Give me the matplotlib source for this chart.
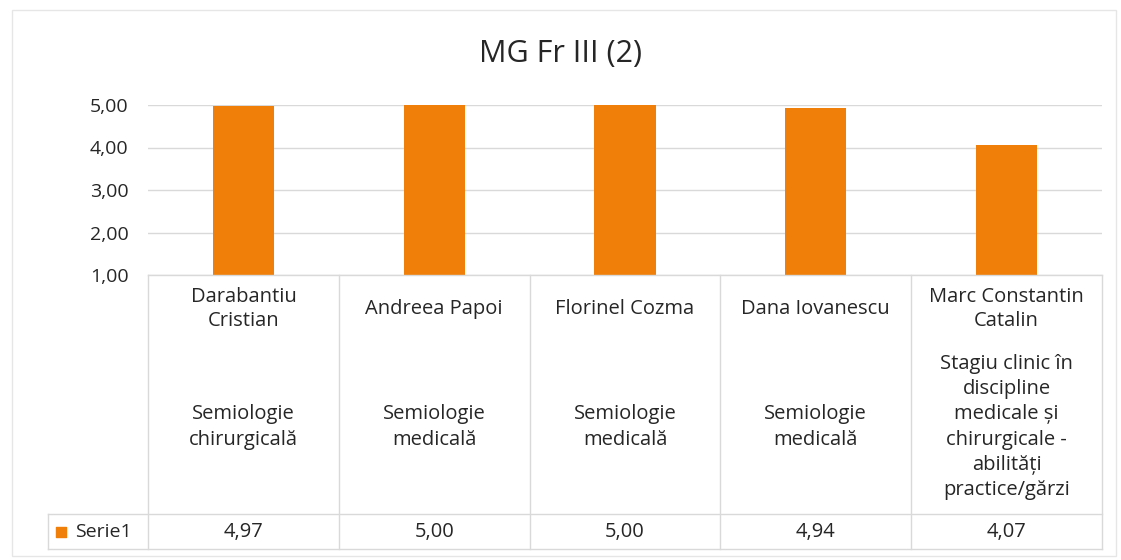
import matplotlib.pyplot as plt

# data
names = ["Darabantiu\nCristian", "Andreea Papoi", "Florinel Cozma", "Dana Iovanescu", "Marc Constantin\nCatalin"]
courses = ["Semiologie\nchirurgicală", "Semiologie\nmedicală", "Semiologie\nmedicală", "Semiologie\nmedicală",
           "Stagiu clinic în\ndiscipline\nmedicale și\nchirurgicale -\nabilități\npractice/gărzi"]
values = [4.97, 5.00, 5.00, 4.94, 4.07]
yticks = [1, 2, 3, 4, 5]
series_name = "Serie1"

orange = "#F07F09"
grid = "#D9D9D9"
txt = "#262626"
plt.rcParams['font.family'] = ['Open Sans', 'DejaVu Sans']

W, H = 1121, 560
fig = plt.figure(figsize=(W / 100, H / 100), dpi=100)

def fx(px):
    return px / W

def fy(py):
    return 1 - py / H

# light frame round the chart
fig.patches.append(plt.Rectangle((fx(12), fy(556)), fx(1104), 546 / H, transform=fig.transFigure,
                                 fill=False, edgecolor="#E6E6E6", lw=1))

left, right, top, axis_bot = 148, 1102, 105, 275
ax = fig.add_axes([fx(left), fy(axis_bot), fx(right - left), (axis_bot - top) / H])
x = list(range(len(values)))
ax.bar(x, values, width=0.32, color=orange, zorder=3)
ax.set_xlim(-0.5, len(values) - 0.5)
ax.set_ylim(1, 5)
ax.set_yticks(yticks)
ax.set_yticklabels([f"{v:.2f}".replace(".", ",") for v in yticks], fontsize=14, color=txt)
ax.tick_params(axis="y", length=0, pad=14)
ax.tick_params(axis="x", length=0, labelbottom=False)
ax.grid(axis="y", color=grid, lw=1, zorder=0)
for s in ax.spines.values():
    s.set_visible(False)
fig.text(0.5, fy(54), "MG Fr III (2)", ha="center", va="center", fontsize=22, color=txt)

# data table below the axis
tab_bot, row_top, leg_left = 550, 514, 48
tax = fig.add_axes([fx(left), fy(tab_bot), fx(right - left), (tab_bot - axis_bot) / H])
tax.set_xlim(-0.5, len(values) - 0.5)
tax.set_ylim(tab_bot, axis_bot)
tax.axis("off")
unit = (right - left) / len(values)
xleg = -0.5 - (left - leg_left) / unit
lc = grid
tax.plot([-0.5, len(values) - 0.5], [axis_bot, axis_bot], color=lc, lw=1, clip_on=False)
tax.plot([xleg, len(values) - 0.5], [row_top, row_top], color=lc, lw=1, clip_on=False)
tax.plot([xleg, len(values) - 0.5], [tab_bot - 1, tab_bot - 1], color=lc, lw=1, clip_on=False)
tax.plot([xleg, xleg], [row_top, tab_bot - 1], color=lc, lw=1, clip_on=False)
for i in range(len(values) + 1):
    tax.plot([i - 0.5, i - 0.5], [axis_bot, tab_bot - 1], color=lc, lw=1, clip_on=False)

fs = 14.5
for i, (n, c, v) in enumerate(zip(names, courses, values)):
    tax.text(i, 309, n, ha="center", va="center", fontsize=fs, color=txt, linespacing=1.3)
    tax.text(i, 427, c, ha="center", va="center", fontsize=fs, color=txt, linespacing=1.35)
    tax.text(i, 532, f"{v:.2f}".replace(".", ","), ha="center", va="center", fontsize=fs, color=txt)

tax.scatter([xleg + 0.07], [532], marker="s", s=50, color=orange, clip_on=False)
tax.text(xleg + 0.14, 532, series_name, ha="left", va="center", fontsize=14, color=txt)

fig.savefig("out.png", dpi=100, facecolor="white")
